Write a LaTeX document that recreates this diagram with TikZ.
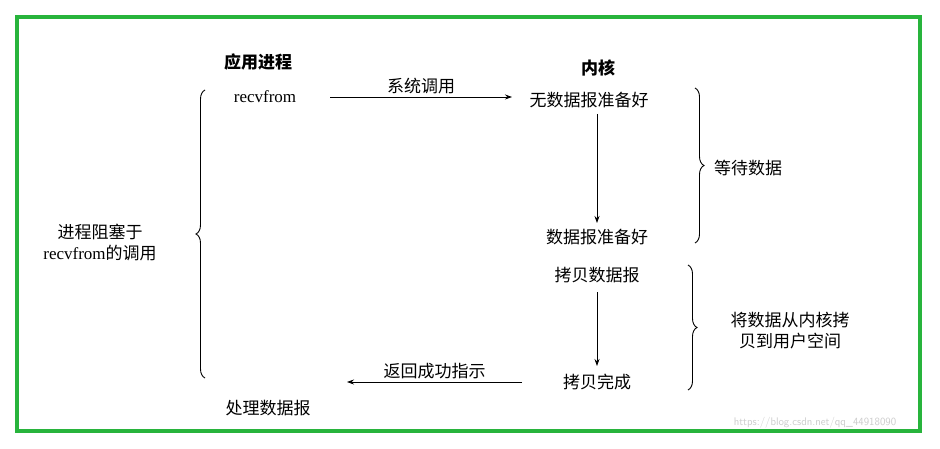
\documentclass[tikz,border=0pt]{standalone}
\usepackage{fontspec}
\setmainfont{Liberation Serif}
\newfontfamily\cjk{Noto Sans CJK SC}
\usetikzlibrary{decorations.pathreplacing,arrows.meta}
\tikzset{
  lbl/.style={font=\cjk\fontsize{17}{21}\selectfont, inner sep=1pt},
  bl/.style={font=\cjk\bfseries\fontsize{17}{21}\selectfont, inner sep=1pt},
  rv/.style={font=\fontsize{17}{21}\selectfont, inner sep=1pt},
  arr/.style={-{Stealth[length=7pt,width=5pt]}, line width=0.8pt},
  brc/.style={decorate, decoration={brace, amplitude=9pt}, line width=0.9pt}
}
\begin{document}
\begin{tikzpicture}[x=1pt,y=-1pt]
\useasboundingbox (0,0) rectangle (940,449);
\fill[white] (0,0) rectangle (940,449);
\draw[draw={rgb,255:red,40;green,180;blue,60}, line width=4pt] (17,17) rectangle (920,431);
\node[bl] (app) at (258,62) {应用进程};
\node[rv] (recv) at (265,97) {recvfrom};
\node[bl] (kern) at (598,68) {内核};
\node[lbl] (n1) at (589,100) {无数据报准备好};
\node[lbl] (n2) at (597,237) {数据报准备好};
\node[lbl] (n3) at (597,275) {拷贝数据报};
\node[lbl] (n4) at (597,382) {拷贝完成};
\node[lbl] (proc) at (268,408) {处理数据报};
\coordinate (a1) at (330,97);
\coordinate (a2) at (512,97);
\draw[arr] (a1) -- node[lbl, above=2pt] {系统调用} (a2);
\coordinate (d1) at (597,114);
\coordinate (d2) at (597,223);
\coordinate (e1) at (597,292);
\coordinate (e2) at (597,366);
\draw[arr] (d1) -- (d2);
\draw[arr] (e1) -- (e2);
\coordinate (b1) at (522,382);
\coordinate (b2) at (347,382);
\draw[arr] (b1) -- node[lbl, above=2pt] {返回成功指示} (b2);
\draw[brc] (695,88) -- (695,243);
\node[lbl] (wait) at (748,168) {等待数据};
\draw[brc] (688,265) -- (688,390);
\node[lbl, align=center] (copy) at (790,331) {将数据从内核拷\\贝到用户空间};
\draw[brc] (205,378) -- (205,90);
\node[lbl, align=center] (blk) at (100,243) {进程阻塞于\\{\rmfamily recvfrom}的调用};
\node[font=\fontsize{11}{13}\selectfont\sffamily, text=gray!40] (wm) at (815,423) {https://blog.csdn.net/qq\_44918090};
\end{tikzpicture}
\end{document}
